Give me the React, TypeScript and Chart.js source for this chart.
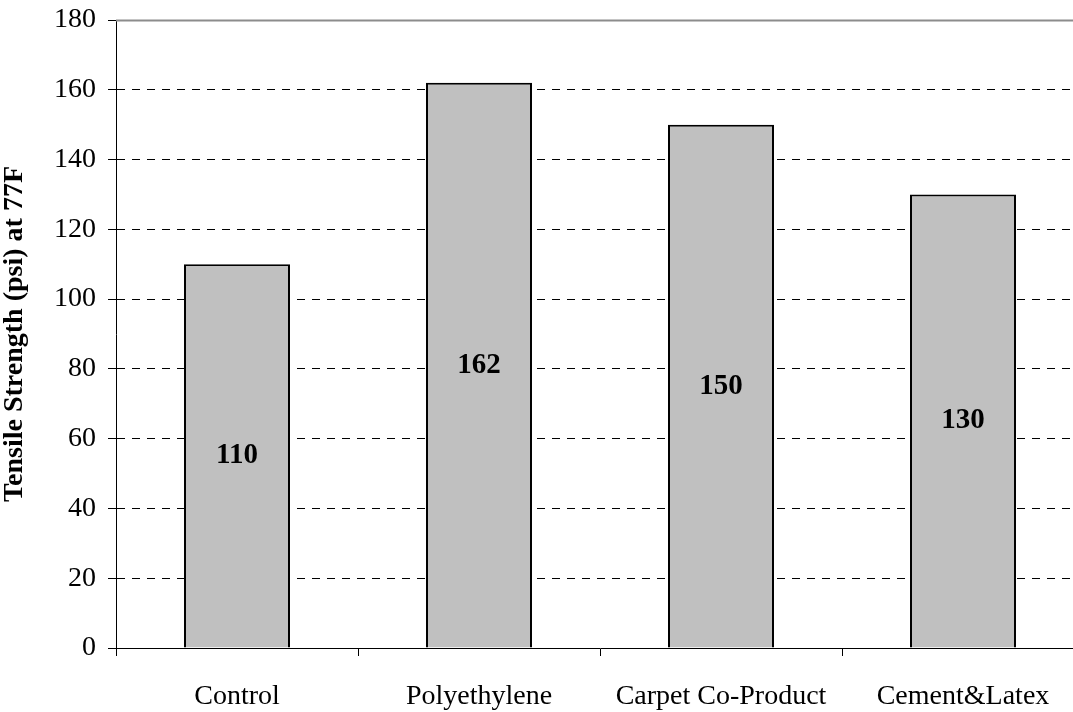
import React, { useEffect, useRef } from 'react';
import { Chart, registerables } from 'chart.js';

Chart.register(...registerables);

const categories = ['Control', 'Polyethylene', 'Carpet Co-Product', 'Cement&Latex'];
const tensileStrength = [110, 162, 150, 130];
const barLabels = ['110', '162', '150', '130'];
const yMin = 0;
const yMax = 180;
const yStep = 20;
const yAxisTitle = 'Tensile Strength (psi) at 77F';

const FONT = '"Liberation Serif", "Times New Roman", serif';

const overlayPlugin = {
  id: 'overlayPlugin',
  afterDatasetsDraw(chart: any) {
    const { ctx, chartArea } = chart;
    const yTop = Math.round(chart.scales.y.getPixelForValue(yMax)) + 0.5;
    ctx.save();
    ctx.strokeStyle = '#8c8c8c';
    ctx.lineWidth = 2;
    ctx.beginPath();
    ctx.moveTo(chartArea.left, yTop);
    ctx.lineTo(chartArea.right, yTop);
    ctx.stroke();

    const meta = chart.getDatasetMeta(0);
    ctx.font = `bold 29px ${FONT}`;
    ctx.fillStyle = '#000';
    ctx.textAlign = 'center';
    ctx.textBaseline = 'middle';
    meta.data.forEach((bar: any, i: number) => {
      const { x, y, base } = bar.getProps(['x', 'y', 'base'], true);
      ctx.fillText(barLabels[i], x, (y + base) / 2);
    });
    ctx.restore();
  },
};

export default function App() {
  const canvasRef = useRef<HTMLCanvasElement | null>(null);

  useEffect(() => {
    if (!canvasRef.current) return;
    const chart = new Chart(canvasRef.current, {
      type: 'bar',
      data: {
        labels: categories,
        datasets: [
          {
            data: tensileStrength,
            backgroundColor: '#c0c0c0',
            borderColor: '#000000',
            borderWidth: 2,
            categoryPercentage: 1,
            barPercentage: 0.438,
          },
        ],
      },
      options: {
        responsive: false,
        animation: false,
        devicePixelRatio: 1,
        layout: { padding: { top: 20, left: 0, right: 0, bottom: 0 } },
        plugins: {
          legend: { display: false },
          tooltip: { enabled: false },
        },
        scales: {
          x: {
            type: 'category',
            offset: true,
            afterFit: (scale: any) => {
              scale.height = 64;
              scale.paddingLeft = 0;
              scale.paddingRight = 0;
            },
            grid: {
              display: true,
              offset: true,
              drawOnChartArea: false,
              drawTicks: true,
              tickLength: 8,
              color: '#000',
              tickColor: '#000',
            },
            border: { display: true, color: '#000', width: 1 },
            ticks: {
              color: '#000',
              font: { family: FONT, size: 28 },
              padding: 24,
              maxRotation: 0,
              autoSkip: false,
            },
          },
          y: {
            min: yMin,
            max: yMax,
            afterFit: (scale: any) => {
              scale.width = 116;
              scale.paddingTop = 0;
              scale.paddingBottom = 0;
            },
            grid: {
              display: true,
              drawTicks: true,
              tickLength: 8,
              lineWidth: 1,
              color: (ctx: any) =>
                ctx.tick && (ctx.tick.value === yMax || ctx.tick.value === yMin)
                  ? 'rgba(0,0,0,0)'
                  : '#000',
              tickColor: '#000',
            },
            border: { display: true, color: '#000', width: 1, dash: [8, 7] },
            ticks: {
              stepSize: yStep,
              color: '#000',
              font: { family: FONT, size: 28 },
              padding: 12,
            },
            title: {
              display: true,
              text: yAxisTitle,
              color: '#000',
              font: { family: FONT, size: 28, weight: 'bold', lineHeight: 0.85 },
              padding: { top: 3, bottom: 0 },
            },
          },
        },
      },
      plugins: [overlayPlugin],
    } as any);
    return () => chart.destroy();
  }, []);

  return (
    <div
      style={{
        position: 'fixed',
        left: 0,
        top: 0,
        width: 1073,
        height: 712,
        overflow: 'hidden',
        background: '#fff',
      }}
    >
      <canvas
        ref={canvasRef}
        width={1084}
        height={712}
        style={{ width: '1084px', height: '712px', display: 'block' }}
      />
    </div>
  );
}
